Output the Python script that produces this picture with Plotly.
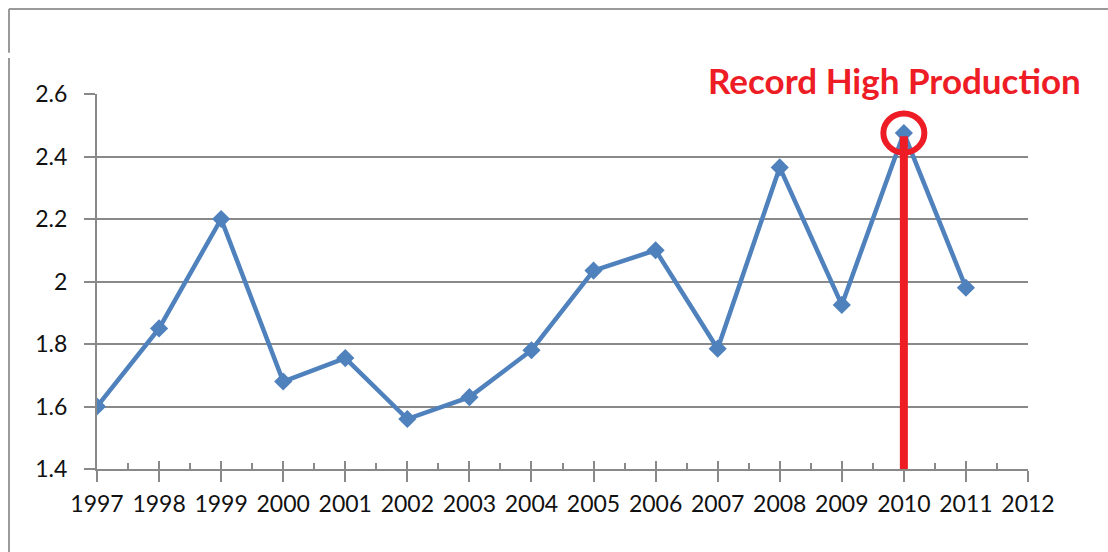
import plotly.graph_objects as go

# Annual production series
years = [1997, 1998, 1999, 2000, 2001, 2002, 2003, 2004,
         2005, 2006, 2007, 2008, 2009, 2010, 2011]
production = [1.60, 1.85, 2.20, 1.68, 1.755, 1.56, 1.63, 1.78,
              2.035, 2.10, 1.785, 2.365, 1.925, 2.475, 1.98]

x_ticks = list(range(1997, 2013))
y_ticks = [1.4, 1.6, 1.8, 2.0, 2.2, 2.4, 2.6]
y_tick_text = ["1.4", "1.6", "1.8", "2", "2.2", "2.4", "2.6"]
callout_text = "Record High Production"

BLUE = "#4F81BD"
RED = "#EE1C25"
GRID = "#898989"
TEXT = "#111111"
FONT = "Lato, 'Open Sans', sans-serif"

peak_i = max(range(len(production)), key=lambda i: production[i])
peak_x, peak_y = years[peak_i], production[peak_i]

fig = go.Figure()
fig.add_trace(go.Scatter(
    x=years, y=production, mode="lines+markers",
    line=dict(color=BLUE, width=4.5),
    marker=dict(symbol="diamond", size=14, color=BLUE),
    showlegend=False, hoverinfo="x+y",
))
# invisible companion trace so the overlay axis (inner half of major ticks) renders
fig.add_trace(go.Scatter(
    x=[x_ticks[0], x_ticks[-1]], y=[y_ticks[0], y_ticks[0]],
    xaxis="x2", mode="markers", marker=dict(size=0.1, opacity=0),
    showlegend=False, hoverinfo="skip",
))

fig.update_layout(
    width=1108, height=552,
    margin=dict(l=97, r=80, t=94, b=83),
    paper_bgcolor="white", plot_bgcolor="white",
    font=dict(family=FONT, size=23, color=TEXT),
    xaxis=dict(
        range=[x_ticks[0], x_ticks[-1]], tickmode="array", tickvals=x_ticks,
        ticktext=[str(v) for v in x_ticks],
        showgrid=False, zeroline=False,
        showline=True, linecolor=GRID, linewidth=2,
        ticks="outside", ticklen=11, tickwidth=2, tickcolor=GRID,
        ticklabelstandoff=2,
        minor=dict(ticks="inside", ticklen=6, tickwidth=1.5, tickcolor=GRID,
                   tickmode="array",
                   tickvals=[v + 0.5 for v in x_ticks[:-1]]),
        tickfont=dict(family=FONT, size=23, color=TEXT),
        fixedrange=True,
    ),
    xaxis2=dict(
        overlaying="x", anchor="y", side="bottom",
        range=[x_ticks[0], x_ticks[-1]], tickmode="array", tickvals=x_ticks,
        showticklabels=False, showgrid=False, zeroline=False, showline=False,
        ticks="inside", ticklen=8, tickwidth=2, tickcolor=GRID,
    ),
    yaxis=dict(
        range=[y_ticks[0], y_ticks[-1]], tickmode="array", tickvals=y_ticks,
        ticktext=y_tick_text,
        showgrid=True, gridcolor=GRID, gridwidth=1.5, zeroline=False,
        showline=True, linecolor=GRID, linewidth=2,
        ticks="outside", ticklen=11, tickwidth=2, tickcolor=GRID,
        ticklabelstandoff=12,
        tickfont=dict(family=FONT, size=23, color=TEXT),
        fixedrange=True,
    ),
)

# chart-area frame (left edge has a small break near the top)
frame = dict(color="#9a9a9a", width=2)
fig.add_shape(type="line", xref="paper", yref="paper", x0=-0.0945, x1=1.2,
              y0=1.227, y1=1.227, line=frame)
fig.add_shape(type="line", xref="paper", yref="paper", x0=-0.0945, x1=-0.0945,
              y0=1.227, y1=1.11, line=frame)
fig.add_shape(type="line", xref="paper", yref="paper", x0=-0.0945, x1=-0.0945,
              y0=1.096, y1=-0.3, line=frame)

# call-out: vertical bar from the axis floor up to the record value, ring around the peak
fig.add_shape(type="line", xref="x", yref="y", x0=peak_x, x1=peak_x,
              y0=y_ticks[0], y1=peak_y - 0.01, line=dict(color=RED, width=8),
              layer="above")
fig.add_shape(type="circle", xref="x", yref="y",
              xsizemode="pixel", ysizemode="pixel",
              xanchor=peak_x, yanchor=peak_y,
              x0=-20.5, x1=20.5, y0=-19.5, y1=19.5,
              line=dict(color=RED, width=6), layer="above")
fig.add_annotation(
    x=peak_x - 0.15, y=1.0, xref="x", yref="paper", yanchor="bottom",
    text="<b>" + callout_text + "</b>", showarrow=False,
    font=dict(family=FONT, size=35, color=RED), yshift=-9,
)

fig.write_html("out.html")
